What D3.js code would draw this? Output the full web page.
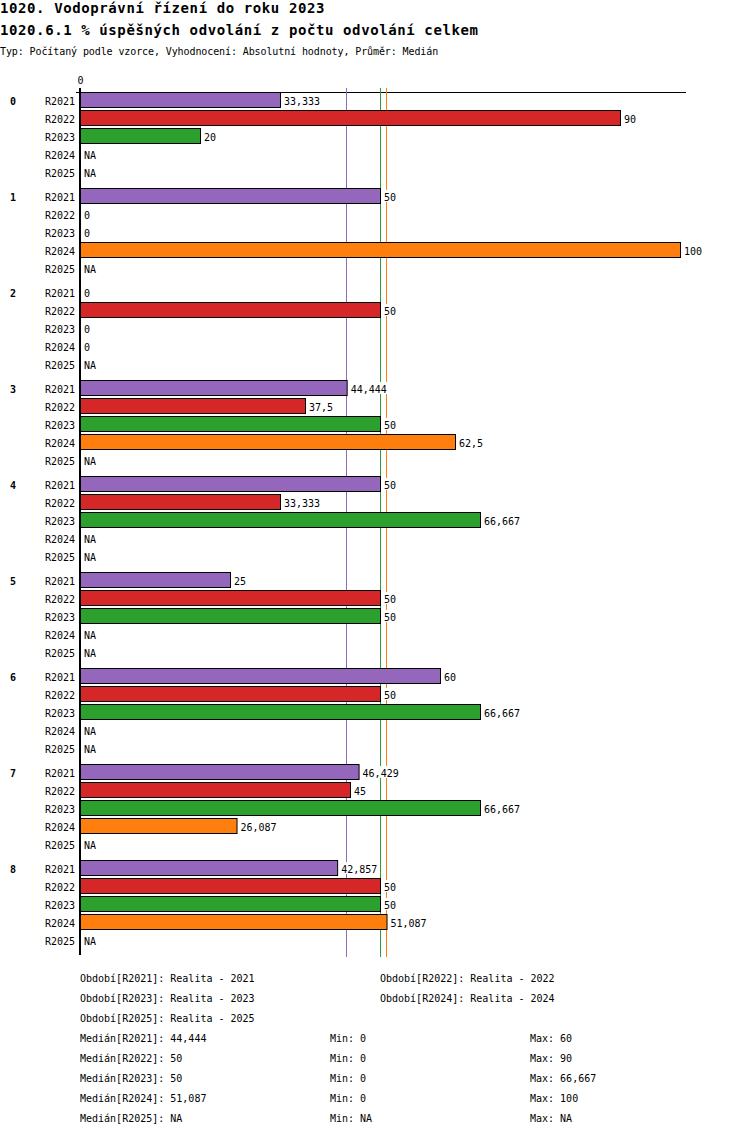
<!DOCTYPE html>
<html>
<head>
<meta charset="utf-8">
<script src="https://cdn.jsdelivr.net/npm/d3@7"></script>
<style>
  body { margin: 0; background: #fff; }
  svg text { font-family: "DejaVu Sans Mono", "Liberation Mono", monospace; font-size: 10px; fill: #000; }
  .title { font-size: 14px; font-weight: bold; letter-spacing: 0.6px; }
  .group { font-weight: bold; }
</style>
</head>
<body>
<svg id="chart" width="750" height="1136">
  <g id="head"></g>
  <g id="axes"></g>
  <g id="medians"></g>
  <g id="bars"></g>
  <g id="labels"></g>
  <g id="legend"></g>
</svg>
<script>
let title1 = "1020. Vodoprávní řízení do roku 2023",
    title2 = "1020.6.1 % úspěšných odvolání z počtu odvolání celkem",
    subtitle = "Typ: Počítaný podle vzorce, Vyhodnocení: Absolutní hodnoty, Průměr: Medián";

let groups = ["0", "1", "2", "3", "4", "5", "6", "7", "8"];
let periods = ["R2021", "R2022", "R2023", "R2024", "R2025"];
let periodNames = ["Realita - 2021", "Realita - 2022", "Realita - 2023", "Realita - 2024", "Realita - 2025"];
let colors = ["#9467bd", "#d62728", "#2ca02c", "#ff7f0e", "#8c564b"];

// one array per period, one value per group (null = NA)
let r2021 = [33.333, 50, 0, 44.444, 50, 25, 60, 46.429, 42.857];
let r2022 = [90, 0, 50, 37.5, 33.333, 50, 50, 45, 50];
let r2023 = [20, 0, 0, 50, 66.667, 50, 66.667, 66.667, 50];
let r2024 = [null, 100, 0, 62.5, null, null, null, 26.087, 51.087];
let r2025 = [null, null, null, null, null, null, null, null, null];
let series = [r2021, r2022, r2023, r2024, r2025];

let margins = {left: 80, right: 70, top: 92, group: 96, row: 18},
    barH = 15;

function fmt(v) {
  if (v == null) return "NA";
  return String(+v.toFixed(3)).replace(".", ",");
}

function rowY(g, r) {
  return margins.top + 8 + g * margins.group + r * margins.row;
}

let x = d3.scaleLinear().domain([0, 100]).range([margins.left, 680]);
let bottom = rowY(groups.length - 1, periods.length - 1) + 15;

// header
let head = d3.select("#head");
head.append("text").attr("class", "title").attr("x", 0).attr("y", 13).text(title1);
head.append("text").attr("class", "title").attr("x", 0).attr("y", 35).text(title2);
head.append("text").attr("x", 0).attr("y", 55).attr("letter-spacing", "-0.1px").text(subtitle);

// axes
let axes = d3.select("#axes");
axes.append("line")
  .attr("x1", x(0) - 4).attr("x2", x(100) + 6)
  .attr("y1", margins.top + 0.5).attr("y2", margins.top + 0.5)
  .attr("stroke", "#000");

let x_axis = d3.axisTop(x).tickValues([0]).tickSize(4).tickPadding(4).tickFormat(d3.format("d"));
axes.append("g")
  .attr("transform", `translate(0,${margins.top})`)
  .call(x_axis)
  .call(g => g.select(".domain").remove())
  .call(g => g.selectAll("text").attr("font-family", null).attr("font-size", null));

axes.append("line")
  .attr("x1", x(0)).attr("x2", x(0))
  .attr("y1", margins.top - 4).attr("y2", bottom)
  .attr("stroke", "#000").attr("stroke-width", 2);

// median lines
let stats = series.map(s => {
  let vals = s.filter(v => v != null);
  return {
    median: vals.length ? d3.median(vals) : null,
    min: vals.length ? d3.min(vals) : null,
    max: vals.length ? d3.max(vals) : null
  };
});

d3.select("#medians")
  .selectAll("line")
  .data(stats.map((s, i) => ({m: s.median, i})).filter(d => d.m != null))
  .enter()
  .append("line")
  .attr("x1", d => Math.floor(x(d.m)) + 0.5).attr("x2", d => Math.floor(x(d.m)) + 0.5)
  .attr("y1", margins.top - 4).attr("y2", bottom + 2)
  .attr("stroke", d => colors[d.i])
  .attr("stroke-width", 1);

// flat list of rows
let rows = [];
groups.forEach((g, gi) => {
  periods.forEach((p, pi) => {
    rows.push({g: gi, p: pi, v: series[pi][gi], y: rowY(gi, pi)});
  });
});

// group + period labels
let labels = d3.select("#labels");
labels.selectAll("text.group")
  .data(groups).enter()
  .append("text")
  .attr("class", "group")
  .attr("x", 10)
  .attr("y", (d, i) => rowY(i, 0) + 5)
  .text(d => d);

labels.selectAll("text.period")
  .data(rows).enter()
  .append("text")
  .attr("class", "period")
  .attr("x", 75)
  .attr("y", d => d.y + 5)
  .attr("text-anchor", "end")
  .text(d => periods[d.p]);

// bars
d3.select("#bars")
  .selectAll("rect")
  .data(rows.filter(d => d.v != null && d.v > 0)).enter()
  .append("rect")
  .attr("x", x(0) + 0.5)
  .attr("y", d => d.y - barH / 2)
  .attr("width", d => x(d.v) - x(0))
  .attr("height", barH)
  .attr("fill", d => colors[d.p])
  .attr("stroke", "#000")
  .attr("stroke-width", 1);

// value labels with white background
let vl = labels.selectAll("g.value")
  .data(rows).enter()
  .append("g")
  .attr("class", "value")
  .attr("transform", d => `translate(${x(d.v == null ? 0 : d.v) + 4},${d.y})`);

vl.append("rect").attr("fill", "#fff");
vl.append("text")
  .attr("x", 0)
  .attr("y", 5)
  .text(d => fmt(d.v));
vl.each(function() {
  let t = d3.select(this).select("text").node().getBBox();
  d3.select(this).select("rect")
    .attr("x", t.x - 1).attr("y", -6)
    .attr("width", t.width + 2).attr("height", 12);
});

// legend
let legend = d3.select("#legend");
let legTop = 982;
periods.forEach((p, i) => {
  legend.append("text")
    .attr("x", i % 2 == 0 ? 80 : 380)
    .attr("y", legTop + Math.floor(i / 2) * 20)
    .text(`Období[${p}]: ${periodNames[i]}`);
});

let statTop = legTop + 3 * 20;
periods.forEach((p, i) => {
  let y = statTop + i * 20;
  legend.append("text").attr("x", 80).attr("y", y).text(`Medián[${p}]: ${fmt(stats[i].median)}`);
  legend.append("text").attr("x", 330).attr("y", y).text(`Min: ${fmt(stats[i].min)}`);
  legend.append("text").attr("x", 530).attr("y", y).text(`Max: ${fmt(stats[i].max)}`);
});
</script>
</body>
</html>
